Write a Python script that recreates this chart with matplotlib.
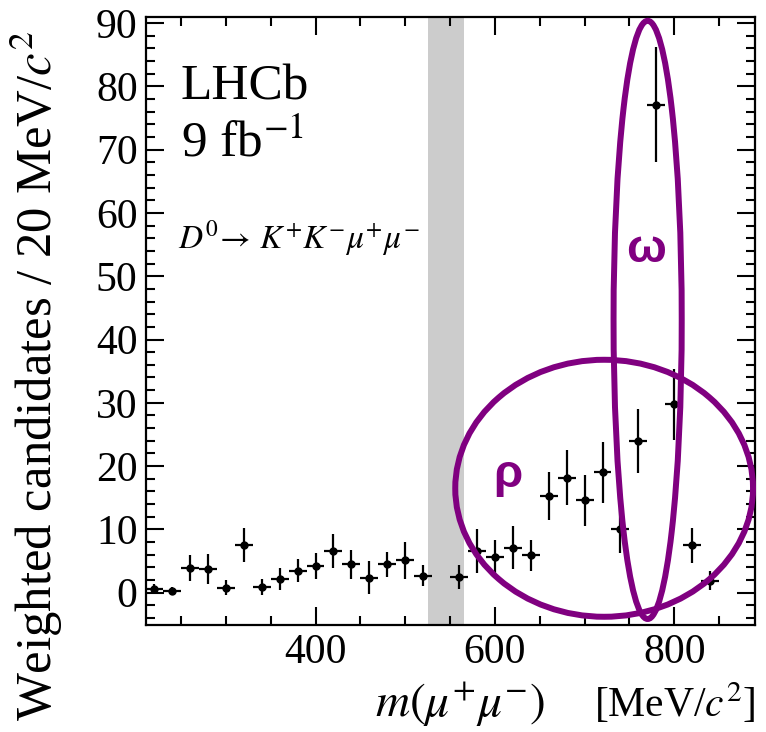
import matplotlib
matplotlib.use("Agg")
import matplotlib.pyplot as plt
from matplotlib.patches import Ellipse
from matplotlib.ticker import MultipleLocator

plt.rcParams["font.family"] = "serif"
plt.rcParams["font.serif"] = ["Liberation Serif", "DejaVu Serif"]
plt.rcParams["mathtext.fontset"] = "stix"

PURPLE = "#800080"
BAND = "#cccccc"

# bin centres [MeV/c^2], weighted yields and their uncertainties
mass = [220, 240, 260, 280, 300, 320, 340, 360, 380, 400, 420, 440, 460, 480,
        500, 520, 560, 580, 600, 620, 640, 660, 680, 700, 720, 740, 760, 780,
        800, 820, 840]
yields = [0.6, 0.3, 3.9, 3.7, 0.8, 7.6, 0.9, 2.2, 3.5, 4.2, 6.6, 4.5, 2.4, 4.5,
          5.1, 2.7, 2.5, 6.6, 5.7, 7.1, 5.9, 15.3, 18.2, 14.6, 19.0, 10.0, 24.0,
          77.1, 29.8, 7.5, 1.9]
errors = [0.8, 0.6, 2.0, 2.4, 1.2, 2.7, 1.3, 1.7, 1.8, 2.0, 2.75, 2.3, 2.65, 2.0,
          2.95, 1.7, 1.85, 3.45, 2.55, 3.4, 2.5, 3.8, 4.3, 4.0, 4.8, 3.7, 5.1,
          9.1, 5.6, 2.8, 1.5]
half_bin = 10

# vetoed eta region
veto = (525, 565)

fig = plt.figure(figsize=(7.66, 7.32), dpi=100)
ax = fig.add_axes([146 / 766, 107 / 732, 609 / 766, 608 / 732])

ax.axvspan(*veto, color=BAND, lw=0, zorder=0)
ax.errorbar(mass, yields, xerr=half_bin, yerr=errors, fmt="o", ms=5,
            color="black", elinewidth=1.6, capsize=0, zorder=3)

ax.set_xlim(211, 890)
ax.set_ylim(-5.1, 90.95)

ax.xaxis.set_major_locator(MultipleLocator(200))
ax.xaxis.set_minor_locator(MultipleLocator(50))
ax.yaxis.set_major_locator(MultipleLocator(10))
ax.yaxis.set_minor_locator(MultipleLocator(2))
ax.tick_params(which="both", direction="in", top=True, right=True,
               width=1.5, labelsize=30)
ax.tick_params(which="major", length=13)
ax.tick_params(which="minor", length=6.5)
ax.tick_params(axis="y", pad=6)
ax.tick_params(axis="x", pad=6)
for s in ax.spines.values():
    s.set_linewidth(1.6)

# x axis title, right aligned (math part drawn a bit larger like ROOT does)
ax.text(1.0, -0.151, r"[MeV/$c^{2}$]", transform=ax.transAxes, fontsize=30,
        ha="right", va="baseline")
ax.text(0.655, -0.151, r"$m(\mu^{+}\mu^{-})$", transform=ax.transAxes,
        fontsize=34, ha="right", va="baseline")

ax.set_ylabel(r"Weighted candidates / 20 MeV/$c^{2}$", fontsize=36.5,
              loc="top")
ax.yaxis.set_label_coords(-0.133, 0.977)

ax.text(0.057, 0.865, "LHCb", transform=ax.transAxes, fontsize=37)
ax.text(0.057, 0.77, r"9 fb$^{-1}$", transform=ax.transAxes, fontsize=37)
ax.text(0.0525, 0.62, r"$D^{0}\!\rightarrow\, K^{+}K^{-}\mu^{+}\mu^{-}$",
        transform=ax.transAxes, fontsize=24)

# resonance annotations
ax.add_patch(Ellipse((770.3, 43.1), 76, 94.5, fill=False, ec=PURPLE, lw=4.3,
                     clip_on=False, zorder=4))
ax.add_patch(Ellipse((721.8, 16.5), 332, 40.6, fill=False, ec=PURPLE, lw=4.3,
                     clip_on=False, zorder=4))
ax.text(769, 52.2, "ω", color=PURPLE, fontsize=34, weight="bold",
        family="Liberation Sans", ha="center", va="baseline", zorder=5)
ax.text(615, 16.7, "ρ", color=PURPLE, fontsize=34, weight="bold",
        family="Liberation Sans", ha="center", va="baseline", zorder=5)

fig.savefig("out.png", dpi=100, facecolor="white")
